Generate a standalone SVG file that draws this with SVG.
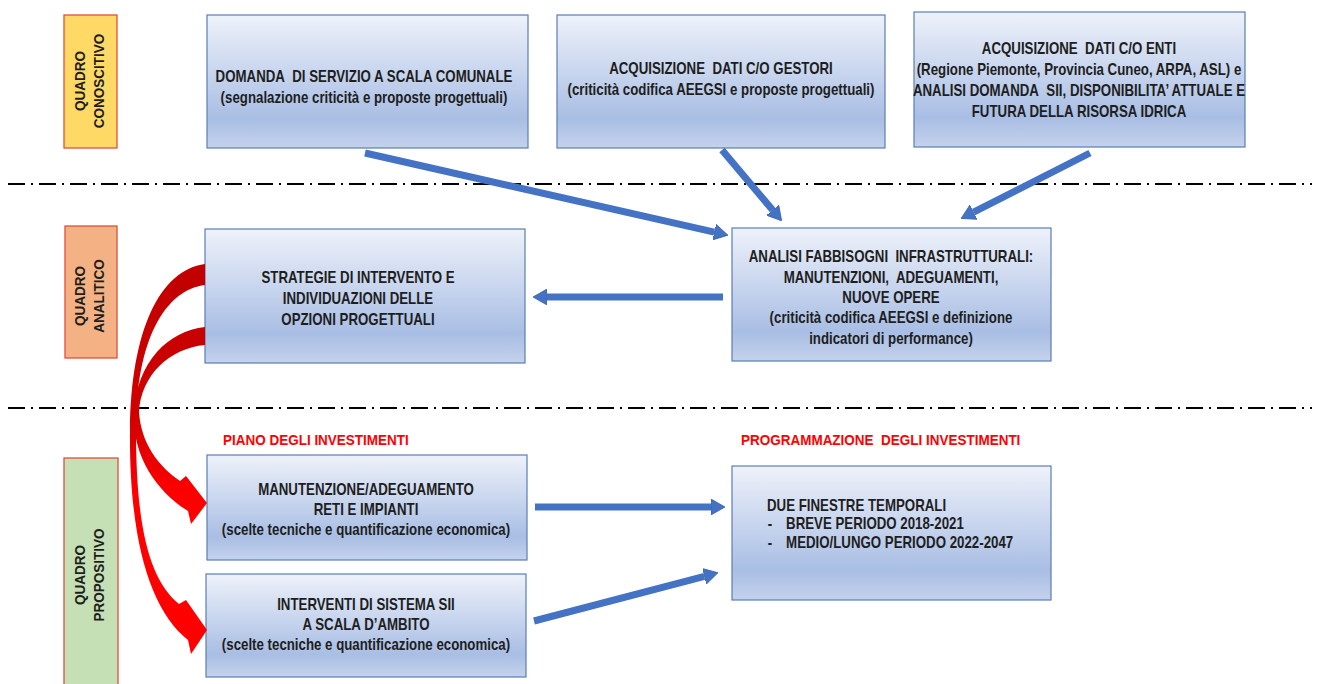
<svg xmlns="http://www.w3.org/2000/svg" width="1320" height="684" viewBox="0 0 1320 684">
<defs>
<linearGradient id="boxg" x1="0" y1="0" x2="0" y2="1">
<stop offset="0" stop-color="#EEF2FA"/>
<stop offset="0.78" stop-color="#A9BEE4"/>
<stop offset="1" stop-color="#C4D2EC"/>
</linearGradient>
<linearGradient id="redg" gradientUnits="userSpaceOnUse" x1="0" y1="260" x2="0" y2="650">
<stop offset="0" stop-color="#C00000"/>
<stop offset="0.4" stop-color="#D00000"/>
<stop offset="0.6" stop-color="#FF0000"/>
<stop offset="1" stop-color="#FF0000"/>
</linearGradient>
<marker id="ah" viewBox="0 0 14 16" refX="0" refY="8" markerWidth="14" markerHeight="16" markerUnits="userSpaceOnUse" orient="auto">
<path d="M0,0 L14,8 L0,16 Z" fill="#4472C4" stroke="#3A62AA" stroke-width="0.8"/>
</marker>
</defs>
<style>
.box{fill:url(#boxg);stroke:#5B7DB5;stroke-width:1.2}
.t{font-family:"Liberation Sans",Arial,sans-serif;font-weight:bold;font-size:16px;fill:#1E1E1E;text-anchor:middle}
.s15{font-size:15px}
.tl{text-anchor:start}
.red{fill:#FF0000;text-anchor:start}
.lab{stroke:#E0503A;stroke-width:1.3}
.dd{stroke:#000;stroke-width:2;stroke-dasharray:17 6 2 6;fill:none}
.ba{stroke:#4472C4;stroke-width:7;fill:none;marker-end:url(#ah)}
.ra{fill:url(#redg)}
</style>
<rect width="1320" height="684" fill="#FFFFFF"/>
<line class="dd" x1="8" y1="184" x2="1312" y2="184"/>
<line class="dd" x1="8" y1="408" x2="1312" y2="408"/>

<g id="lab-conoscitivo">
<rect class="lab" x="64" y="15" width="53" height="133" fill="#FFD966"/>
<g transform="translate(90,81) rotate(-90) scale(0.9,1)">
<text class="t s15" x="0" y="-5">QUADRO</text>
<text class="t s15" x="0" y="14">CONOSCITIVO</text>
</g>
</g>
<g id="lab-analitico">
<rect class="lab" x="65" y="226" width="52" height="132" fill="#F4B183"/>
<g transform="translate(90,296) rotate(-90) scale(0.9,1)">
<text class="t s15" x="0" y="-5">QUADRO</text>
<text class="t s15" x="0" y="14">ANALITICO</text>
</g>
</g>
<g id="lab-propositivo">
<rect class="lab" x="64" y="458" width="54" height="240" fill="#C5E0B4"/>
<g transform="translate(90,575) rotate(-90) scale(0.9,1)">
<text class="t s15" x="0" y="-5">QUADRO</text>
<text class="t s15" x="0" y="14">PROPOSITIVO</text>
</g>
</g>

<g id="n-domanda">
<rect class="box" x="207" y="15" width="321" height="133"/>
<g transform="matrix(0.83 0 0 1 61.88 0)">
<text class="t" x="364" y="82">DOMANDA&#160; DI SERVIZIO A SCALA COMUNALE</text>
<text class="t" x="364" y="103">(segnalazione criticità e proposte progettuali)</text>
</g>
</g>
<g id="n-gestori">
<rect class="box" x="557" y="15" width="328" height="133"/>
<g transform="matrix(0.83 0 0 1 122.57 0)">
<text class="t" x="721" y="74">ACQUISIZIONE&#160; DATI C/O GESTORI</text>
<text class="t" x="721" y="95">(criticità codifica AEEGSI e proposte progettuali)</text>
</g>
</g>
<g id="n-enti">
<rect class="box" x="914" y="12" width="331" height="135"/>
<g transform="matrix(0.83 0 0 1 183.43 0)">
<text class="t" x="1079" y="54">ACQUISIZIONE&#160; DATI C/O ENTI</text>
<text class="t" x="1079" y="75">(Regione Piemonte, Provincia Cuneo, ARPA, ASL) e</text>
<text class="t" x="1079" y="96">ANALISI DOMANDA&#160; SII, DISPONIBILITA’ ATTUALE E</text>
<text class="t" x="1079" y="117">FUTURA DELLA RISORSA IDRICA</text>
</g>
</g>
<g id="n-strategie">
<rect class="box" x="205" y="229" width="320" height="134"/>
<g transform="matrix(0.83 0 0 1 60.86 0)">
<text class="t" x="358" y="283">STRATEGIE DI INTERVENTO E</text>
<text class="t" x="358" y="304">INDIVIDUAZIONI DELLE</text>
<text class="t" x="358" y="325">OPZIONI PROGETTUALI</text>
</g>
</g>
<g id="n-analisi">
<rect class="box" x="732" y="228" width="319" height="133"/>
<g transform="matrix(0.83 0 0 1 151.47 0)">
<text class="t" x="891" y="262">ANALISI FABBISOGNI&#160; INFRASTRUTTURALI:</text>
<text class="t" x="891" y="283">MANUTENZIONI,&#160; ADEGUAMENTI,</text>
<text class="t" x="891" y="303">NUOVE OPERE</text>
<text class="t" x="891" y="323">(criticità codifica AEEGSI e definizione</text>
<text class="t" x="891" y="344">indicatori di performance)</text>
</g>
</g>
<g id="n-manutenzione">
<g transform="matrix(0.9 0 0 1 22.3 0)">
<text class="t s15 red" x="223" y="445">PIANO DEGLI INVESTIMENTI</text>
</g>
<rect class="box" x="207" y="455" width="320" height="105"/>
<g transform="matrix(0.83 0 0 1 62.22 0)">
<text class="t" x="366" y="495">MANUTENZIONE/ADEGUAMENTO</text>
<text class="t" x="366" y="515">RETI E IMPIANTI</text>
<text class="t" x="366" y="535">(scelte tecniche e quantificazione economica)</text>
</g>
</g>
<g id="n-interventi">
<rect class="box" x="206" y="574" width="320" height="103"/>
<g transform="matrix(0.83 0 0 1 62.22 0)">
<text class="t" x="366" y="610">INTERVENTI DI SISTEMA SII</text>
<text class="t" x="366" y="630">A SCALA D’AMBITO</text>
<text class="t" x="366" y="650">(scelte tecniche e quantificazione economica)</text>
</g>
</g>
<g id="n-programmazione">
<g transform="matrix(0.9 0 0 1 74.1 0)">
<text class="t s15 red" x="741" y="445">PROGRAMMAZIONE&#160; DEGLI INVESTIMENTI</text>
</g>
<rect class="box" x="732" y="466" width="319" height="134"/>
<g transform="matrix(0.83 0 0 1 130.39 0)">
<text class="t tl" x="767" y="511">DUE FINESTRE TEMPORALI</text>
<text class="t tl" x="768" y="529">-</text>
<text class="t tl" x="790" y="529">BREVE PERIODO 2018-2021</text>
<text class="t tl" x="768" y="548">-</text>
<text class="t tl" x="790" y="548">MEDIO/LUNGO PERIODO 2022-2047</text>
</g>
</g>

<g id="connectors">
<line class="ba" x1="365" y1="153" x2="714.3" y2="232.1"/>
<line class="ba" x1="722" y1="150" x2="772.6" y2="210.1"/>
<line class="ba" x1="1090" y1="153" x2="973.6" y2="212.1"/>
<line class="ba" x1="723" y1="297" x2="547" y2="297"/>
<line class="ba" x1="535" y1="507" x2="711" y2="507"/>
<line class="ba" x1="534" y1="621" x2="704.4" y2="576.3"/>
<path class="ra" d="M205 264 C160 270 131 330 130 430 C129 540 150 610 188 640 L191 654 L207 630 L186 600 L179 604 C150 580 136 530 136 430 C136 340 165 290 205 285 Z"/>
<path class="ra" d="M205 327 C168 331 137 362 134 412 C132 455 155 490 188 511 L191 524 L207 503 L186 476 L180 481 C158 466 141 443 139 412 C141 375 170 348 205 345 Z"/>
</g>
</svg>
